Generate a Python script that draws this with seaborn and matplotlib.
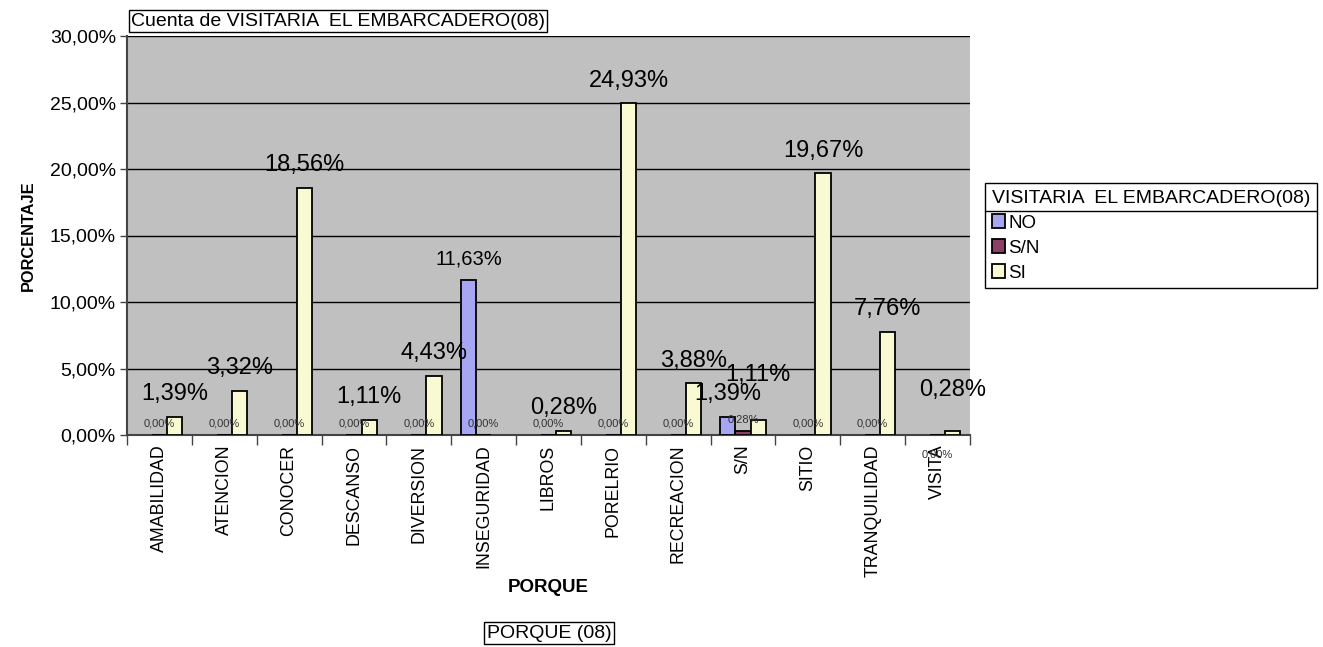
import numpy as np
import pandas as pd
import matplotlib
matplotlib.use('Agg')
import matplotlib.pyplot as plt
from matplotlib.ticker import FuncFormatter, FixedLocator
from matplotlib.lines import Line2D
import seaborn as sns

# values (percent); NaN = no bar in the pivot
categorias = ['AMABILIDAD', 'ATENCION', 'CONOCER', 'DESCANSO', 'DIVERSION',
              'INSEGURIDAD', 'LIBROS', 'PORELRIO', 'RECREACION', 'S/N',
              'SITIO', 'TRANQUILIDAD', 'VISITA']
serie_no = [np.nan, np.nan, np.nan, np.nan, np.nan, 11.63, np.nan, np.nan,
            np.nan, 1.39, np.nan, np.nan, np.nan]
serie_sn = [0.00, 0.00, 0.00, 0.00, 0.00, 0.00, 0.00, 0.00,
            0.00, 0.28, 0.00, 0.00, 0.00]
serie_si = [1.39, 3.32, 18.56, 1.11, 4.43, np.nan, 0.28, 24.93,
            3.88, 1.11, 19.67, 7.76, 0.28]
series = ['NO', 'S/N', 'SI']
y_ticks = [0, 5, 10, 15, 20, 25, 30]

colores = {'NO': '#9999FF', 'S/N': '#993366', 'SI': '#FFFFCC'}

df = pd.DataFrame({
    'PORQUE': categorias * 3,
    'serie': ['NO'] * 13 + ['S/N'] * 13 + ['SI'] * 13,
    'valor': serie_no + serie_sn + serie_si,
}).dropna()

sns.set_style('white')
plt.rcParams['font.family'] = ['Liberation Sans', 'DejaVu Sans']
plt.rcParams.update({'text.color': 'black', 'axes.labelcolor': 'black',
                     'xtick.color': 'black', 'ytick.color': 'black'})

fig = plt.figure(figsize=(13.23, 6.47), dpi=100)
ax = fig.add_axes([127 / 1323, 1 - 435 / 647, (970 - 127) / 1323, (435 - 36) / 647])
ax.set_facecolor('#C0C0C0')

sns.barplot(data=df, x='PORQUE', y='valor', hue='serie', hue_order=series,
            order=categorias, palette=colores, width=0.7, dodge=True,
            edgecolor='black', linewidth=1.3, ax=ax, zorder=3)

ax.set_xlim(-0.5, 12.5)
ax.set_ylim(0, 30)
ax.yaxis.set_major_locator(FixedLocator(y_ticks))
ax.yaxis.set_major_formatter(FuncFormatter(lambda v, p: f'{v:.2f}%'.replace('.', ',')))
ax.grid(axis='y', color='black', linewidth=1, zorder=1)
ax.set_axisbelow(True)
for s in ['top', 'right']:
    ax.spines[s].set_visible(False)
ax.spines['left'].set_color('#444444')
ax.spines['bottom'].set_color('#444444')
ax.spines['left'].set_linewidth(1.5)
ax.spines['bottom'].set_linewidth(1.5)
ax.tick_params(axis='y', left=True, length=5, width=1, labelsize=14, pad=3, color='#444444')
ax.tick_params(axis='x', which='major', length=0, labelsize=12.8, rotation=90, pad=7)
ax.set_xticks(np.arange(-0.5, 13, 1), minor=True)
ax.tick_params(axis='x', which='minor', bottom=True, length=7, width=1, color='#444444')

ax.set_xlabel('PORQUE', fontsize=13.5, fontweight='bold')
ax.xaxis.set_label_coords(0.5, (435 - 588) / 399)
ax.xaxis.label.set_va('center')
ax.set_ylabel('PORCENTAJE', fontsize=11.8, fontweight='bold')
ax.yaxis.set_label_coords((28 - 127) / 843, 0.5)
ax.yaxis.label.set_va('center')

# data labels
def fmt(v):
    return f'{v:.2f}%'.replace('.', ',')

extra_off = {('SI', 9): 25, ('SI', 12): 22}
for serie, cont in zip(series, ax.containers):
    for bar in cont.patches:
        h = bar.get_height()
        if np.isnan(h):
            continue
        xc = bar.get_x() + bar.get_width() / 2
        idx = int(round(xc))
        if serie == 'S/N':
            off = -14 if idx == 12 else 8.5
            ax.annotate(fmt(h), (xc, h), xytext=(0, off), textcoords='offset points',
                        ha='center', va='center', fontsize=8, color='#333333',
                        zorder=5, annotation_clip=False)
        else:
            size = 14.5 if (serie == 'NO' and idx == 5) else 17
            off = extra_off.get((serie, idx), 8.5)
            ax.annotate(fmt(h), (xc, h), xytext=(0, off), textcoords='offset points',
                        ha='center', va='bottom', fontsize=size, color='black', zorder=5)

# legend
handles, labels = ax.get_legend_handles_labels()
leg = ax.legend(handles, labels, title='VISITARIA  EL EMBARCADERO(08)',
                loc='upper left', bbox_to_anchor=(985 / 1323, 1 - 183 / 647),
                bbox_transform=fig.transFigure, frameon=True, fancybox=False,
                edgecolor='black', framealpha=1, borderaxespad=0, borderpad=0.35,
                handlelength=0.7, handleheight=0.7, handletextpad=0.2,
                labelspacing=0.42, fontsize=13.5, title_fontsize=14, alignment='left')
leg.get_frame().set_linewidth(1)

# boxed captions
fig.text(131 / 1323, 1 - 21 / 647, 'Cuenta de VISITARIA  EL EMBARCADERO(08)',
         fontsize=14, va='center', ha='left',
         bbox=dict(boxstyle='square,pad=0.12', facecolor='white', edgecolor='black', linewidth=1))
fig.text(549 / 1323, 1 - 633 / 647, 'PORQUE (08)', fontsize=14, va='center', ha='center',
         bbox=dict(boxstyle='square,pad=0.12', facecolor='white', edgecolor='black', linewidth=1))

# separator under legend title
fig.canvas.draw()
r = fig.canvas.get_renderer()
fb = leg.get_frame().get_window_extent(r)
tb = leg.get_title().get_window_extent(r)
ysep = tb.y0 - 4
fig.add_artist(Line2D([fb.x0, fb.x1], [ysep, ysep], transform=None, color='black', linewidth=1))

fig.savefig('out.png', dpi=100)
